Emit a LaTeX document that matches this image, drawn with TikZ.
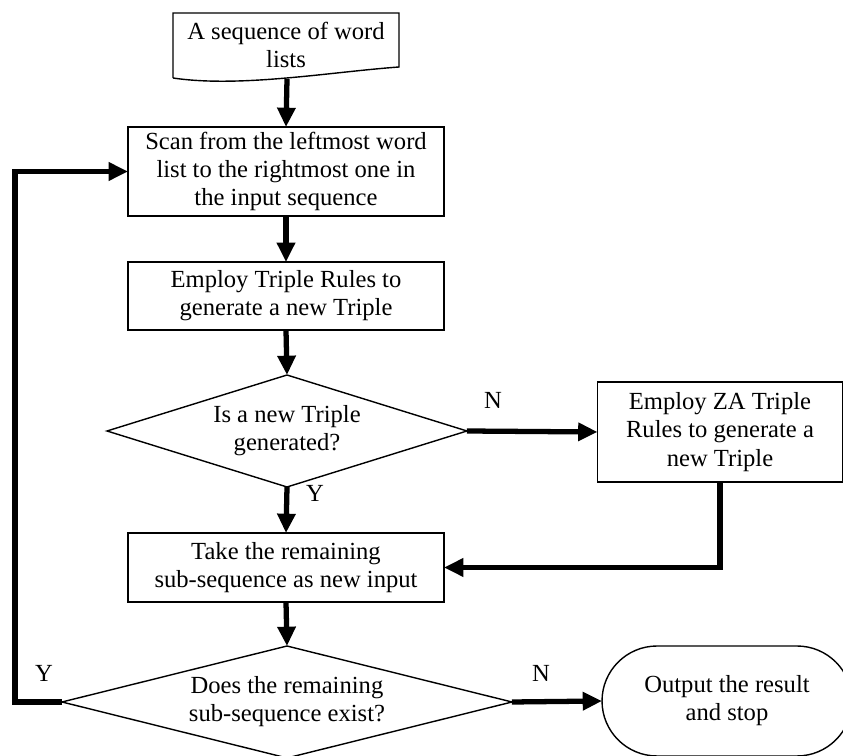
\documentclass[tikz,border=0pt]{standalone}
\usepackage{fontspec}
\setmainfont{Liberation Serif}
\usepackage{tikz}
\usetikzlibrary{arrows.meta, shapes.geometric, shapes.misc, positioning}

\tikzset{
  txt/.style={font=\fontsize{14}{16}\selectfont},
  box/.style={txt, draw, line width=0.8pt, rectangle, align=center, inner sep=0pt, outer sep=0pt},
  decision/.style={txt, draw, line width=0.8pt, diamond, align=center, inner sep=0pt, outer sep=0pt},
  terminal/.style={txt, draw, line width=0.8pt, rounded rectangle, align=center, inner sep=0pt, outer sep=0pt},
  flow/.style={line width=3pt, -{Triangle[length=11pt,width=10pt]}},
  lbl/.style={txt, inner sep=0pt}
}

\begin{document}
\begin{tikzpicture}[x=0.02cm, y=-0.02cm]
        \useasboundingbox (0,0) rectangle (843,756);
        % Input document
        \node[txt, align=center] (src) at (286,45) {A sequence of word\\lists};
        \draw[line width=0.8pt] (173,78) -- (173,13) -- (399,13) -- (399,67)
            .. controls (330,72) and (240,88) .. (173,78);
        \coordinate (srcout) at (287,79);
        % Process boxes
        \node[box, minimum width=6.32cm, minimum height=1.78cm] (scan) at (286,171.5)
            {Scan from the leftmost word\\list to the rightmost one in\\the input sequence};
        \node[box, minimum width=6.32cm, minimum height=1.36cm] (employ) at (286,296)
            {Employ Triple Rules to\\generate a new Triple};
        \node[decision, shape aspect=3.2, minimum width=7.2cm, minimum height=2.24cm] (gen) at (287,431)
            {Is a new Triple\\generated?};
        \node[box, minimum width=4.9cm, minimum height=2cm] (za) at (720,432)
            {Employ ZA Triple\\Rules to generate a\\new Triple};
        \node[box, minimum width=6.32cm, minimum height=1.38cm] (take) at (286,567.5)
            {Take the remaining\\sub-sequence as new input};
        \node[decision, shape aspect=4, minimum width=9cm, minimum height=2.24cm] (exist) at (287,702)
            {Does the remaining\\sub-sequence exist?};
        \node[terminal, minimum width=5cm, minimum height=2.2cm] (stop) at (727,701)
            {Output the result\\and stop};
        % Connectors
        \draw[flow] (srcout) -- (scan.north);
        \draw[flow] (scan.south) -- (employ.north);
        \draw[flow] (employ.south) -- (gen.north);
        \draw[flow] (gen.east) -- (za.west);
        \draw[flow] (gen.south) -- (take.north);
        \draw[flow] (za.south) |- (take.east);
        \draw[flow] (take.south) -- (exist.north);
        \draw[flow] (exist.east) -- (stop.west);
        \coordinate (loopx) at (15,0);
        \draw[flow] (exist.west) -- (exist.west -| loopx) |- (scan.west);
        % Branch labels
        \node[lbl] (n1) at (493,400) {N};
        \node[lbl] (y1) at (315,493) {Y};
        \node[lbl] (y2) at (44,673) {Y};
        \node[lbl] (n2) at (541,673) {N};
    \end{tikzpicture}
\end{document}
